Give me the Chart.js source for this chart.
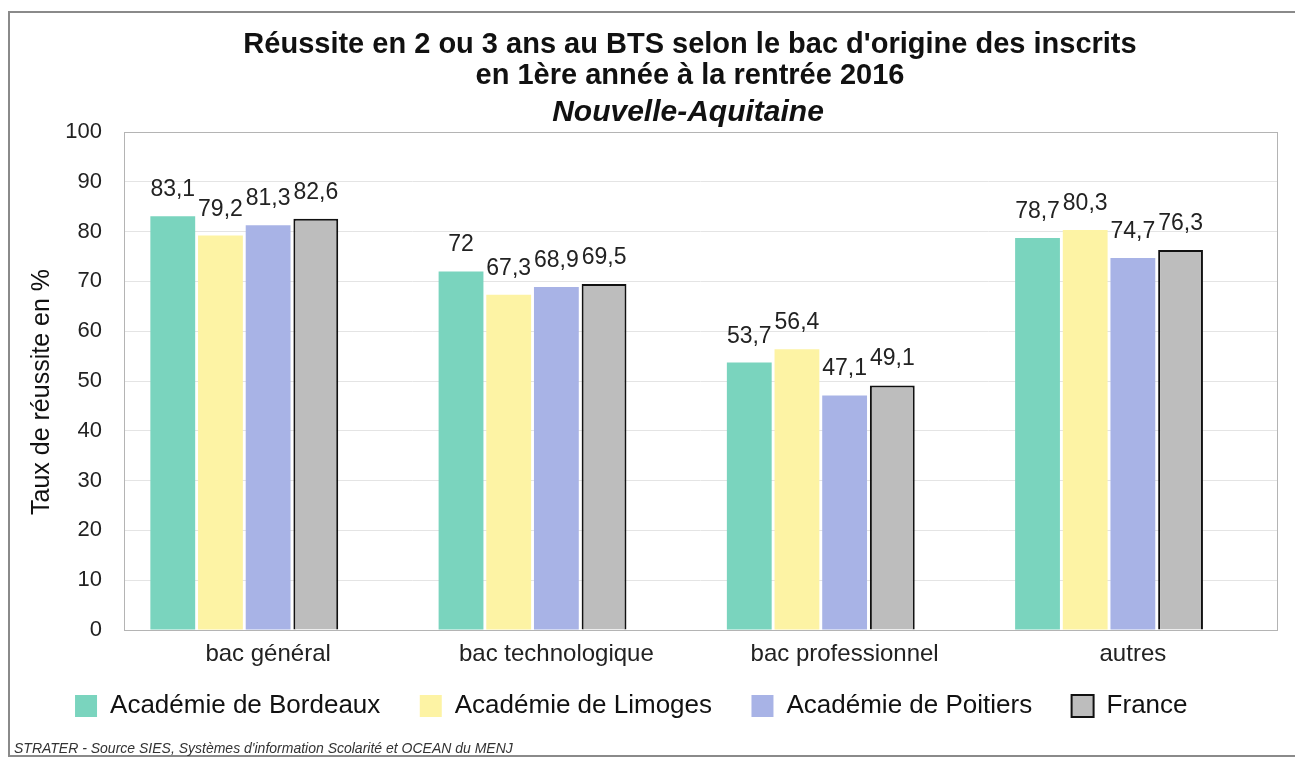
<!DOCTYPE html>
<html>
<head>
<meta charset="utf-8">
<title>Réussite au BTS</title>
<script src="https://cdn.jsdelivr.net/npm/chart.js@4.4.1/dist/chart.umd.min.js"></script>
<style>
html, body { margin: 0; padding: 0; background: #fff; overflow: hidden; }
#frame { position: absolute; left: 8px; top: 11px; width: 1300px; height: 746px; border: 2px solid #8a8a8a; box-sizing: border-box; }
#wrap { position: absolute; left: 0; top: 0; width: 1295px; height: 760px; }
#source { position: absolute; left: 14px; top: 740px; font: italic 14px "Liberation Sans", Arial, sans-serif; color: #333; white-space: nowrap; }
</style>
</head>
<body>
<div id="frame"></div>
<div id="wrap"><canvas id="btsChart" width="1295" height="760"></canvas></div>
<div id="source">STRATER - Source SIES, Systèmes d'information Scolarité et OCEAN du MENJ</div>
<script>
const categories = ['bac général', 'bac technologique', 'bac professionnel', 'autres'];
const seriesNames = ['Académie de Bordeaux', 'Académie de Limoges', 'Académie de Poitiers', 'France'];
const bordeaux = [83.1, 72, 53.7, 78.7];
const limoges = [79.2, 67.3, 56.4, 80.3];
const poitiers = [81.3, 68.9, 47.1, 74.7];
const france = [82.6, 69.5, 49.1, 76.3];
const yTicks = [0, 10, 20, 30, 40, 50, 60, 70, 80, 90, 100];

const FONT = '"Liberation Sans", Arial, sans-serif';

// titles drawn by hand so they can sit where the original has them
const titlePlugin = {
    id: 'titles',
    afterDraw(chart) {
        const ctx = chart.ctx;
        ctx.save();
        ctx.fillStyle = '#111';
        ctx.textAlign = 'center';
        ctx.textBaseline = 'middle';
        ctx.font = 'bold 29px ' + FONT;
        ctx.fillText("Réussite en 2 ou 3 ans au BTS selon le bac d'origine des inscrits", 690, 45);
        ctx.fillText('en 1ère année à la rentrée 2016', 690, 76);
        ctx.font = 'italic bold 30px ' + FONT;
        ctx.fillText('Nouvelle-Aquitaine', 688, 113);
        // y axis title
        ctx.font = '25px ' + FONT;
        ctx.translate(42, 392);
        ctx.rotate(-Math.PI / 2);
        ctx.fillText('Taux de réussite en %', 0, 0);
        ctx.restore();
    }
};

const plotBorder = {
    id: 'plotBorder',
    beforeDatasetsDraw(chart) {
        const a = chart.chartArea;
        const ctx = chart.ctx;
        ctx.save();
        ctx.strokeStyle = '#b4b4b4';
        ctx.lineWidth = 1;
        ctx.strokeRect(a.left + 0.5, a.top + 0.5, a.right - a.left, a.bottom - a.top);
        ctx.restore();
    }
};

const valueLabels = {
    id: 'valueLabels',
    afterDatasetsDraw(chart) {
        const ctx = chart.ctx;
        ctx.save();
        ctx.font = '23px ' + FONT;
        ctx.fillStyle = '#222';
        ctx.textAlign = 'center';
        ctx.textBaseline = 'alphabetic';
        chart.data.datasets.forEach((ds, i) => {
            chart.getDatasetMeta(i).data.forEach((bar, j) => {
                ctx.fillText(String(ds.data[j]).replace('.', ','), bar.x, bar.y - 20);
            });
        });
        ctx.restore();
    }
};

const ctx = document.getElementById('btsChart').getContext('2d');
const btsChart = new Chart(ctx, {
    type: 'bar',
    data: {
        labels: categories,
        datasets: [
            { label: seriesNames[0], data: bordeaux, backgroundColor: '#7ad4be', borderWidth: 0 },
            { label: seriesNames[1], data: limoges, backgroundColor: '#fdf3a4', borderWidth: 0 },
            { label: seriesNames[2], data: poitiers, backgroundColor: '#a8b3e6', borderWidth: 0 },
            { label: seriesNames[3], data: france, backgroundColor: '#bdbdbd', borderColor: '#111', borderWidth: 2 },
            // empty slot: the original groups leave room for a fifth bar
            { label: '', data: [], backgroundColor: 'transparent', borderWidth: 0 }
        ]
    },
    options: {
        responsive: false,
        animation: false,
        devicePixelRatio: 1,
        categoryPercentage: 0.827,
        barPercentage: 0.94,
        layout: { padding: { top: 132, right: 18, left: 0, bottom: 31 } },
        plugins: {
            title: { display: false },
            tooltip: { enabled: false },
            legend: {
                position: 'bottom',
                labels: {
                    boxWidth: 22,
                    boxHeight: 22,
                    padding: 25,
                    color: '#111',
                    font: { family: FONT, size: 26 },
                    filter: item => item.datasetIndex < 4,
                    // a bit of trailing space widens the gap between entries
                    generateLabels: chart => Chart.defaults.plugins.legend.labels.generateLabels(chart)
                        .map(item => Object.assign(item, { text: item.text + '  ' }))
                }
            }
        },
        scales: {
            x: {
                grid: { display: false, drawTicks: false },
                border: { color: '#a0a0a0' },
                ticks: { color: '#222', font: { family: FONT, size: 24 }, padding: 10 },
                afterFit: s => { s.height = 38; }
            },
            y: {
                min: 0,
                max: 100,
                afterBuildTicks: s => { s.ticks = yTicks.map(v => ({ value: v })); },
                grid: { color: '#e4e4e4', drawTicks: false },
                border: { display: false },
                ticks: { color: '#222', font: { family: FONT, size: 22 }, padding: 22 },
                afterFit: s => { s.width = 124; }
            }
        }
    },
    plugins: [plotBorder, valueLabels, titlePlugin]
});
</script>
</body>
</html>
